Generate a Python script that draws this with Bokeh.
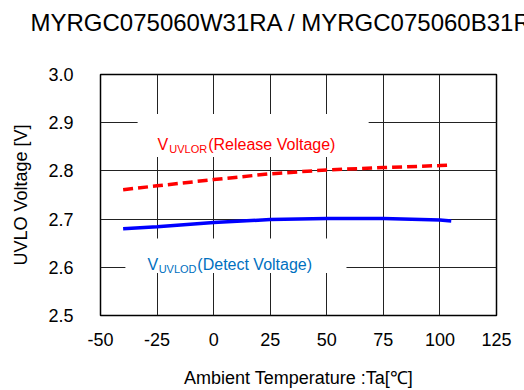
from bokeh.plotting import figure
from bokeh.models import Range1d, FixedTicker, BoxAnnotation, Label, Title, CustomJSTickFormatter
from bokeh.embed import file_html
from bokeh.resources import INLINE

# ---- data ----
temps = [-40, -25, 0, 25, 50, 75, 100, 105]
v_release = [2.761, 2.769, 2.782, 2.794, 2.802, 2.807, 2.811, 2.812]
v_detect = [2.680, 2.684, 2.693, 2.699, 2.701, 2.701, 2.698, 2.696]
x_ticks = [-50, -25, 0, 25, 50, 75, 100, 125]
y_ticks = [2.5, 2.6, 2.7, 2.8, 2.9, 3.0]
title_text = "MYRGC075060W31RA / MYRGC075060B31RA"
x_title = "Ambient Temperature :Ta[\u2103]"
y_title = "UVLO Voltage [V]"

FONT = "Liberation Sans"
SHIFT = 32  # figure is drawn taller and pulled up, so the title can sit high

p = figure(width=524, height=390 + SHIFT, output_backend="svg", toolbar_location=None,
           x_range=Range1d(-50, 125), y_range=Range1d(2.5, 3.0),
           min_border_left=100, min_border_right=28, min_border_top=72 + SHIFT,
           min_border_bottom=75)
p.margin = (-SHIFT, 0, 0, 0)

t = Title(text=title_text, align="left", offset=-70, standoff=77,
          text_font=FONT, text_font_size="24px", text_font_style="normal",
          text_color="black")
p.add_layout(t, "above")

p.outline_line_color = "black"
p.outline_line_width = 1.5
p.outline_line_alpha = 1

p.xaxis.ticker = FixedTicker(ticks=x_ticks)
p.yaxis.ticker = FixedTicker(ticks=y_ticks)
p.xaxis.formatter = CustomJSTickFormatter(code="return tick.toFixed(0)")
p.yaxis.formatter = CustomJSTickFormatter(code="return tick.toFixed(1)")

for ax in (p.xaxis[0], p.yaxis[0]):
    ax.axis_line_color = None
    ax.major_tick_line_color = None
    ax.minor_tick_line_color = None
    ax.major_label_text_font = FONT
    ax.major_label_text_font_size = "18px"
    ax.major_label_text_color = "black"
    ax.axis_label_text_font = FONT
    ax.axis_label_text_font_size = "18px"
    ax.axis_label_text_font_style = "normal"
    ax.axis_label_text_color = "black"

p.xaxis.axis_label = x_title
p.yaxis.axis_label = y_title
p.xaxis.major_label_standoff = 11
p.yaxis.major_label_standoff = 21
p.xaxis.axis_label_standoff = 19
p.yaxis.axis_label_standoff = 14

p.xgrid.ticker = FixedTicker(ticks=x_ticks[1:-1])
p.ygrid.ticker = FixedTicker(ticks=y_ticks[1:-1])
for g in (p.xgrid[0], p.ygrid[0]):
    g.grid_line_color = "#222222"
    g.grid_line_width = 1
    g.grid_line_alpha = 1

p.background_fill_color = "white"
p.border_fill_color = "white"

# white boxes behind labels
p.add_layout(BoxAnnotation(left=-33.6, right=68.5, bottom=2.829, top=2.918,
                           fill_color="white", fill_alpha=1, line_color=None))
p.add_layout(BoxAnnotation(left=-39, right=58.7, bottom=2.588, top=2.660,
                           fill_color="white", fill_alpha=1, line_color=None))

p.line(temps, v_release, line_color="#FF0000", line_width=3.5, line_dash="10 5")
p.line(temps, v_detect, line_color="#0000FF", line_width=3.5)

red = "#FF0000"
blue = "#0070C0"
def lab(x, y, text, color, size):
    p.add_layout(Label(x=x, y=y, text=text, text_color=color, text_font=FONT,
                       text_font_size=size, text_baseline="alphabetic",
                       text_align="left"))

lab(-24.8, 2.8545, "V", red, "16px")
lab(-19.6, 2.845, "UVLOR", red, "11px")
lab(-2.4, 2.8545, "(Release Voltage)", red, "16px")
lab(-29.2, 2.6064, "V", blue, "16px")
lab(-24.3, 2.596, "UVLOD", blue, "11px")
lab(-7.2, 2.6064, "(Detect Voltage)", blue, "16px")

open("out.html", "w").write(file_html(p, INLINE))
